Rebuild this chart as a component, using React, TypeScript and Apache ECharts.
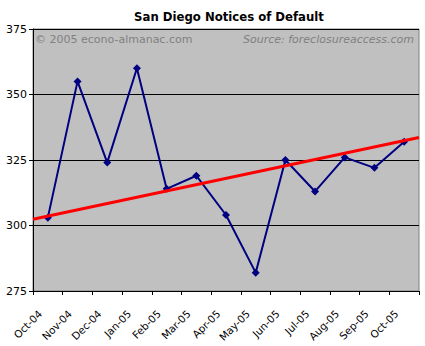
import React, { useEffect, useRef } from "react";
import * as echarts from "echarts";

const months = ["Oct-04", "Nov-04", "Dec-04", "Jan-05", "Feb-05", "Mar-05", "Apr-05", "May-05", "Jun-05", "Jul-05", "Aug-05", "Sep-05", "Oct-05"];
const notices = [303, 355, 324, 360, 314, 319, 304, 282, 325, 313, 326, 322, 332];
// trend line values at the left and right edge of the plot
const trendX = [-0.5, 12.5];
const trendY = [302.4, 333.6];
const yTicks = { min: 275, max: 375, interval: 25 };

const FONT = "DejaVu Sans";

export default function App() {
  const ref = useRef<HTMLDivElement>(null);
  useEffect(() => {
    if (!ref.current) return;
    const chart = echarts.init(ref.current, null, { renderer: "svg" });
    chart.setOption({
      animation: false,
      backgroundColor: "#ffffff",
      title: {
        text: "San Diego Notices of Default",
        left: 224,
        textAlign: "center",
        top: 6,
        textStyle: { fontFamily: FONT, fontSize: 11.7, fontWeight: "bold", color: "#000" },
      },
      grid: {
        left: 33,
        right: 6,
        top: 29,
        bottom: 55,
        show: true,
        backgroundColor: "#C0C0C0",
        borderColor: "#808080",
        borderWidth: 1,
      },
      xAxis: [
        {
          type: "category",
          data: months,
          boundaryGap: true,
          axisLine: { lineStyle: { color: "#000", width: 1 } },
          axisTick: { show: true, length: 4, alignWithLabel: false, lineStyle: { color: "#000" } },
          axisLabel: {
            rotate: 45,
            margin: 13,
            interval: 0,
            padding: [0, 11, 0, 0],
            fontFamily: FONT,
            fontSize: 10.4,
            color: "#000",
          },
          splitLine: { show: false },
        },
        {
          type: "value",
          min: trendX[0],
          max: trendX[1],
          show: false,
        },
      ],
      yAxis: {
        type: "value",
        min: yTicks.min,
        max: yTicks.max,
        interval: yTicks.interval,
        axisLine: { show: true, onZero: false, lineStyle: { color: "#000", width: 1 } },
        axisTick: { show: true, length: 4, lineStyle: { color: "#000" } },
        axisLabel: { fontFamily: FONT, fontSize: 11, color: "#000", margin: 6 },
        splitLine: {
          show: true,
          lineStyle: { color: "#000", width: 1 },
        },
      },
      graphic: [
        {
          type: "text",
          left: 35,
          top: 34,
          style: { text: "© 2005 econo-almanac.com", fontFamily: FONT, fontSize: 11, fill: "#808080" },
        },
        {
          type: "text",
          right: 11,
          top: 34,
          style: { text: "Source: foreclosureaccess.com", fontFamily: FONT, fontSize: 11, fontStyle: "italic", fill: "#808080" },
        },
      ],
      series: [
        {
          type: "line",
          data: notices,
          xAxisIndex: 0,
          lineStyle: { color: "#000080", width: 2 },
          itemStyle: { color: "#000080" },
          symbol: "diamond",
          symbolSize: 8,
          z: 3,
        },
        {
          type: "line",
          xAxisIndex: 1,
          data: trendX.map((x, i) => [x, trendY[i]]),
          lineStyle: { color: "#FF0000", width: 3 },
          symbol: "none",
          z: 4,
        },
      ],
    });
    return () => chart.dispose();
  }, []);
  return <div ref={ref} style={{ position: "fixed", left: 0, top: 0, width: 425, height: 346 }} />;
}
